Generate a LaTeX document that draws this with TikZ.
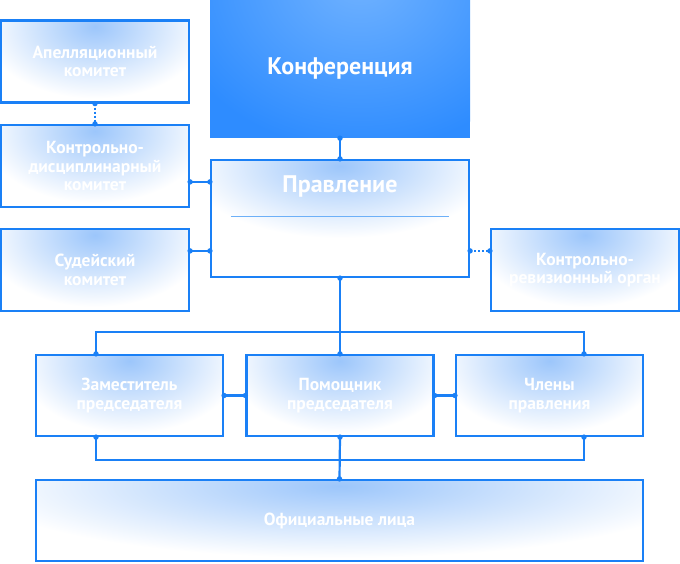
\documentclass[tikz,border=0pt]{standalone}
\usepackage{fontspec}
\setmainfont{PT Sans}
\usetikzlibrary{calc}
\definecolor{bl}{HTML}{1A80F6}
\definecolor{glowc}{HTML}{9CC6FB}
\definecolor{konfc}{HTML}{2E8CFF}
\definecolor{konfl}{HTML}{70B2FF}
\definecolor{sepc}{HTML}{6DB0F8}
\tikzset{
  glow/.style={path picture={
    \begin{scope}
    \clip (path picture bounding box.north west) rectangle ($(path picture bounding box.north east)+(0,-82pt)$);
    \shade[inner color=glowc, outer color=white] let \p1=($(path picture bounding box.north east)-(path picture bounding box.south west)$) in ($(path picture bounding box.north)+(0,-6pt)$) ellipse [x radius={0.6*\x1}, y radius=72pt];
    \end{scope}}},
  box/.style={draw=bl, line width=2.2pt, fill=white, glow, minimum width=188pt, minimum height=82pt, inner sep=0pt, align=center, text=white, font=\bfseries\fontsize{17.5}{18.3}\selectfont},
  bigtext/.style={text=white, font=\bfseries\fontsize{24}{26}\selectfont},
  conn/.style={draw=bl, line width=2.2pt},
  dotconn/.style={draw=bl, line width=2.2pt, dash pattern=on 2pt off 2pt},
  dotpt/.style={fill=bl}
}
\begin{document}
\begin{tikzpicture}[x=1pt,y=1pt]
\useasboundingbox (0,0) rectangle (680,563);
% Conference
\node[fill=konfc, minimum width=260pt, minimum height=138pt, inner sep=0pt,
  path picture={\shade[inner color=konfl, outer color=konfc] ($(path picture bounding box.north)+(20pt,20pt)$) ellipse [x radius=200pt, y radius=170pt];}] (konf) at (340,494) {};
\node[bigtext] (konft) at (konf.center) {Конференция};
% left column
\node[box] (apel) at (95,501.5) {Апелляционный\\комитет};
\node[box] (kd) at (95,397) {Контрольно-\\дисциплинарный\\комитет};
\node[box] (sud) at (95,293) {Судейский\\комитет};
% board
\node[box, minimum width=258pt, minimum height=117pt] (prav) at (340,344.5) {};
\node[bigtext, anchor=base] (pravt) at ($(prav.north)+(0,-34pt)$) {Правление};
\draw[draw=sepc, line width=1.6pt] ($(prav.north west)+(21pt,-57.5pt)$) coordinate (sepl) -- ($(prav.north east)+(-21pt,-57.5pt)$) coordinate (sepr);
% audit
\node[box] (kro) at (585,293) {Контрольно-\\ревизионный орган};
% second row
\node[box, minimum width=187pt, minimum height=81pt] (zam) at (129.5,167.5) {Заместитель\\председателя};
\node[box, minimum width=187pt, minimum height=81pt] (pom) at (340,167.5) {Помощник\\председателя};
\node[box, minimum width=187pt, minimum height=81pt] (chl) at (549.5,167.5) {Члены\\правления};
% officials
\node[box, minimum width=607pt, minimum height=81pt] (off) at (339.5,42.5) {Официальные лица};

% coordinates
\coordinate (pl1) at ($(prav.north west)+(0,-23pt)$);
\coordinate (pl2) at ($(prav.north west)+(0,-92pt)$);
\coordinate (pr2) at ($(prav.north east)+(0,-92pt)$);
\coordinate (kdr) at (kd.east |- pl1);
\coordinate (sudr) at (sud.east |- pl2);
\coordinate (krol) at (kro.west |- pr2);
\coordinate (zt) at ($(zam.north)+(-33.5pt,0)$);
\coordinate (ct) at ($(chl.north)+(34.5pt,0)$);
\coordinate (zb) at ($(zam.south)+(-33.5pt,0)$);
\coordinate (cb) at ($(chl.south)+(34.5pt,0)$);

% connectors
\draw[conn] (konf.south) -- (prav.north);
\draw[dotconn] (apel.south) -- (kd.north);
\draw[conn] (kdr) -- (pl1);
\draw[conn] (sudr) -- (pl2);
\draw[dotconn] (pr2) -- (krol);
\draw[conn] (prav.south) -- (pom.north);
\draw[conn] (zt) -- ++(0,22pt) -| (ct);
\draw[conn] (zam.east) -- (pom.west);
\draw[conn] (pom.east) -- (chl.west);
\draw[conn] (zb) -- ++(0,-23pt) -| (cb);
\draw[conn] (pom.south) -- (off.north);

% dots
\foreach \p in {konf.south, prav.north, apel.south, kd.north, kdr, pl1, sudr, pl2, pr2, krol, prav.south, zt, pom.north, ct, zam.east, pom.west, pom.east, chl.west, zb, pom.south, cb, off.north}
  \fill[dotpt] (\p) circle (2.7pt);
\end{tikzpicture}
\end{document}
